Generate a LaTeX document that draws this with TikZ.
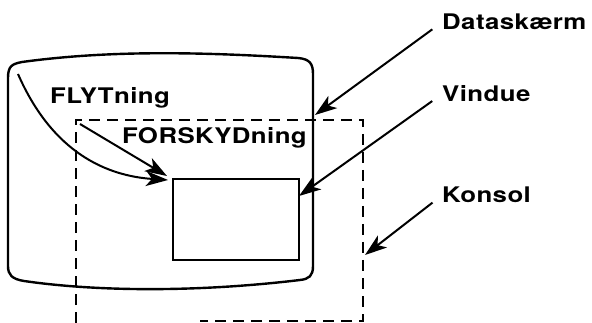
\documentclass[tikz,border=0pt]{standalone}
\usepackage{fontspec}
\setmainfont{TeX Gyre Heros}[FakeStretch=1.2, LetterSpace=2]
\usetikzlibrary{arrows.meta}

\begin{document}
\begin{tikzpicture}[x=1pt, y=-1pt,
    label/.style={anchor=base west, inner sep=0pt, font=\fontsize{21.5}{24}\selectfont\bfseries},
    frame/.style={line width=2.4pt},
    konsolline/.style={line width=2.4pt, dash pattern=on 11pt off 7pt},
    arrow/.style={-{Stealth[length=22pt, width=15pt, inset=6pt]}, line width=2pt}
]
\useasboundingbox (0,0) rectangle (592,323);

% Screen outline
\draw[frame] (8,78) .. controls (8,66) and (12,64) .. (22,62)
  .. controls (110,50) and (200,52) .. (298,58)
  .. controls (310,59) and (313,64) .. (313,74) -- (313,266)
  .. controls (313,276) and (309,279) .. (300,280)
  .. controls (200,292) and (100,292) .. (24,281)
  .. controls (12,279) and (8,275) .. (8,266) -- cycle;

% Konsol (dashed)
\draw[konsolline] (76,323) -- (76,120) -- (363,120) -- (363,321) -- (200,321);

% Window
\node[frame, draw, anchor=north west, minimum width=126pt, minimum height=81pt,
      inner sep=0pt] (vindue) at (172,178) {};

% Arrow ends
\coordinate (flytstart) at (18,74);
\coordinate (forskydstart) at (80,124);
\coordinate (skaermkant) at (315,115);
\coordinate (vinduekant) at (299,196);
\coordinate (konsolkant) at (365,255);

% Labels
\node[label] (flyt) at (50,104) {FLYTning};
\node[label] (forskyd) at (122,144) {FORSKYDning};
\node[label] (dataskaerm) at (442,30) {Dataskærm};
\node[label] (vindtxt) at (442,102) {Vindue};
\node[label] (konsol) at (442,203) {Konsol};

% Arrows
\draw[arrow] (flytstart) .. controls +(35,80) and +(-60,-4) .. ([shift={(-4,2)}]vindue.north west);
\draw[arrow] (forskydstart) -- ([shift={(-5,-2)}]vindue.north west);
\draw[arrow, shorten <=12pt] (dataskaerm.west) -- (skaermkant);
\draw[arrow, shorten <=12pt] (vindtxt.west) -- (vinduekant);
\draw[arrow, shorten <=12pt] (konsol.west) -- (konsolkant);

\end{tikzpicture}
\end{document}
